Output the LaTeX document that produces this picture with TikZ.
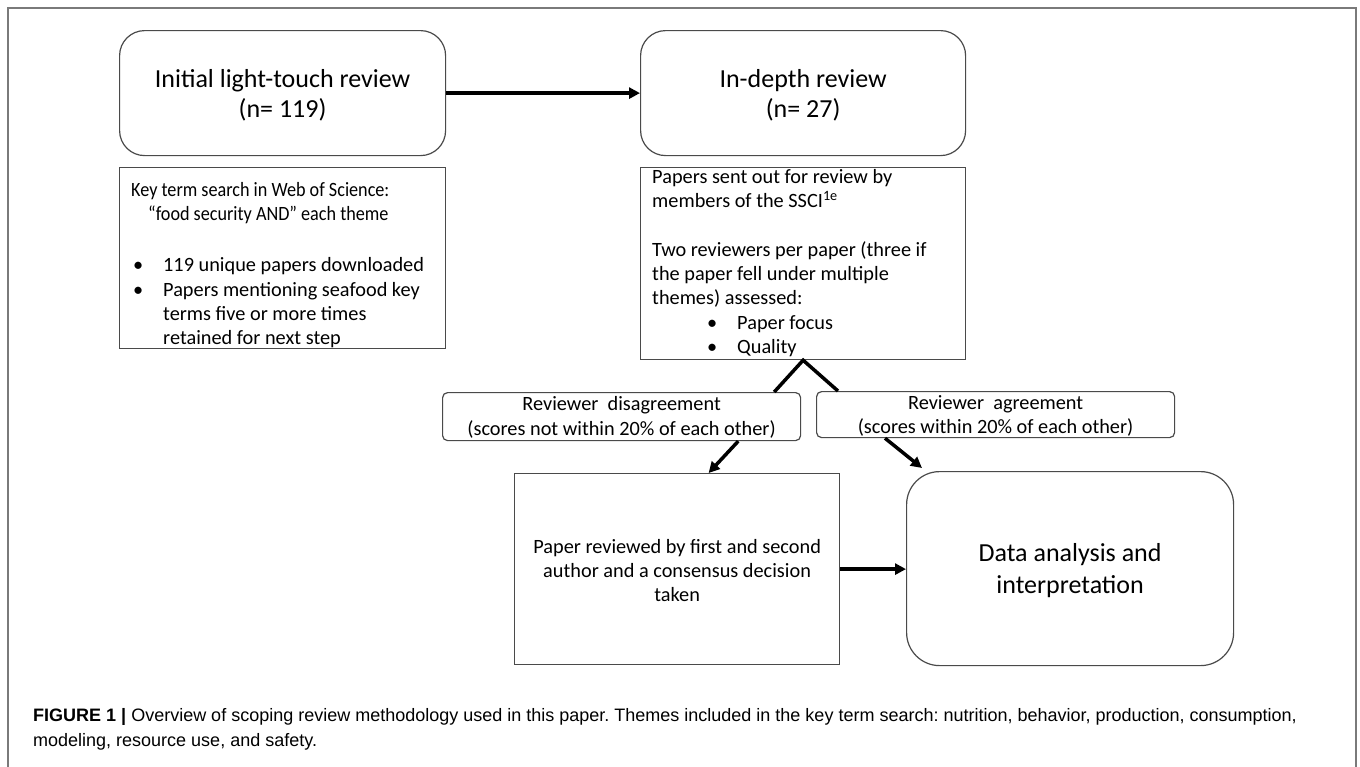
\documentclass[tikz,border=0pt]{standalone}
\usepackage{fontspec}
\usepackage{graphicx}
\setmainfont{Carlito}
\newfontfamily\capfont{Liberation Sans}
\usetikzlibrary{arrows.meta,calc}
\definecolor{boxgray}{HTML}{4A4A4A}
\definecolor{framegray}{HTML}{7A7A7A}
\begin{document}
\frenchspacing
\begin{tikzpicture}[x=1pt,y=-1pt,
  box/.style={draw=boxgray, line width=1.2pt, inner sep=0pt, anchor=north west},
  rbox/.style={box, rounded corners=25pt},
  sbox/.style={box, rounded corners=5pt},
  big/.style={inner sep=0pt, align=center, font=\fontsize{26}{30}\selectfont},
  txt/.style={inner sep=0pt, align=left, font=\fontsize{20.3}{24.3}\selectfont},
  ctxt/.style={inner sep=0pt, align=center, font=\fontsize{20.3}{24.5}\selectfont},
  capt/.style={inner sep=0pt, align=left, font=\capfont\fontsize{18}{25}\selectfont},
  thick arrow/.style={line width=3.5pt, -{Triangle[length=11pt,width=11pt]}},
  thick line/.style={line width=3.5pt},
]
\useasboundingbox (0,0) rectangle (1360,766);
% outer frame
\coordinate (fbl) at (8,770);
\coordinate (ftl) at (8,8);
\coordinate (ftr) at (1356,8);
\coordinate (fbr) at (1356,770);
\draw[framegray, line width=1.5pt] (fbl) -- (ftl) -- (ftr) -- (fbr);

% boxes
\node[rbox, minimum width=326pt, minimum height=125pt] (A) at (119,30) {};
\node[rbox, minimum width=325pt, minimum height=125pt] (B) at (640,30) {};
\node[box, minimum width=326pt, minimum height=181pt] (C) at (119,167) {};
\node[box, minimum width=325pt, minimum height=192pt] (D) at (640,167) {};
\node[sbox, minimum width=358pt, minimum height=48pt] (E) at (442,392) {};
\node[sbox, minimum width=358pt, minimum height=46pt] (F) at (816,391) {};
\node[box, minimum width=325pt, minimum height=191pt] (G) at (514,473) {};
\node[box, rounded corners=33pt, minimum width=327pt, minimum height=194pt] (H) at (906,471) {};

% texts
\node[big] (At) at ($(A.center)+(0,2)$) {Initial light-touch review\\(n= 119)};
\node[big] (Bt) at ($(B.center)+(0,2)$) {In-depth review\\(n= 27)};
\node[txt, anchor=north west] (Ct1) at (131,182) {\scalebox{0.895}[1]{Key term search in Web of Science:}\\
\hspace*{17pt}\scalebox{0.895}[1]{“food security AND” each theme}};
\node[txt, anchor=north west] (Ct2) at (131,257.5) {\hspace*{2pt}\makebox[30pt][l]{\textbullet}119 unique papers downloaded\\
\hspace*{2pt}\makebox[30pt][l]{\textbullet}Papers mentioning seafood key\\
\hspace*{32pt}terms five or more times\\
\hspace*{32pt}retained for next step};
\node[txt, anchor=north west] (Dt) at (652,169) {Papers sent out for review by\\
members of the SSCI\textsuperscript{1e}\\[24.3pt]
Two reviewers per paper (three if\\
the paper fell under multiple\\
themes) assessed:\\
\hspace*{55pt}\makebox[30pt][l]{\textbullet}Paper focus\\
\hspace*{55pt}\makebox[30pt][l]{\textbullet}Quality};
\node[ctxt] (Et) at ($(E.center)+(0,1)$) {Reviewer\ \ disagreement\\(scores not within 20\% of each other)};
\node[ctxt] (Ft) at ($(F.center)+(0,1.5)$) {Reviewer\ \ agreement\\(scores within 20\% of each other)};
\node[ctxt, font=\fontsize{20.3}{24.3}\selectfont] (Gt) at ($(G.center)+(0,1.5)$) {Paper reviewed by first and second\\author and a consensus decision\\taken};
\node[big, font=\fontsize{26}{32}\selectfont] (Ht) at ($(H.center)+(0,1.5)$) {Data analysis and\\interpretation};

\node[capt, anchor=north west] (cap) at (33,708) {\textbf{FIGURE 1 |} Overview of scoping review methodology used in this paper. Themes included in the key term search: nutrition, behavior, production, consumption,\\modeling, resource use, and safety.};

% connectors
\draw[thick arrow] (A.east) -- (B.west);
\coordinate (eTop) at ([xshift=-27pt]E.north east);
\coordinate (fTop) at ([xshift=22pt]F.north west);
\draw[thick line, line join=miter] (eTop) -- (D.south) -- (fTop);
\draw[thick arrow] ([xshift=-63pt]E.south east) -- ([xshift=31.5pt]G.north);
\draw[thick arrow] ([xshift=69pt]F.south west) -- ([shift={(16pt,3pt)}]H.north west);
\draw[thick arrow] (G.east) -- (G.east -| H.west);
\end{tikzpicture}
\end{document}
